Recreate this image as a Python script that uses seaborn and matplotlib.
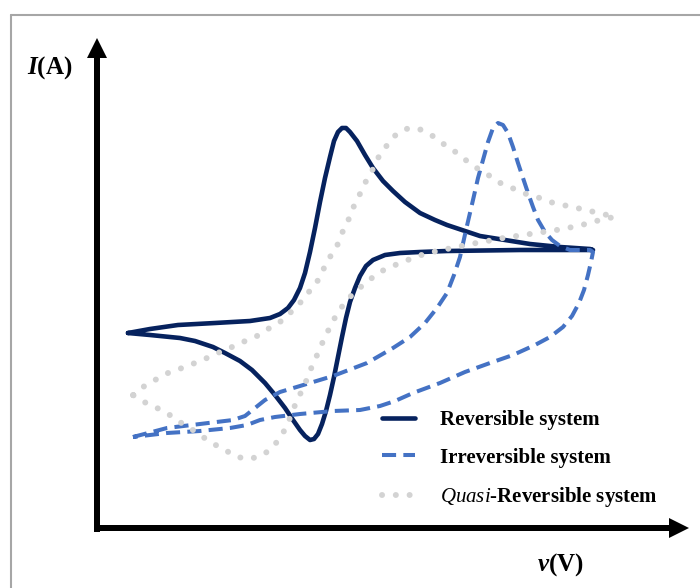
import matplotlib
matplotlib.use('Agg')
import matplotlib.pyplot as plt
import seaborn as sns
import pandas as pd
from matplotlib.lines import Line2D

# potential (x) and current (y) in arbitrary units
rev_x = [31, 53, 81, 118, 153, 173, 183, 191, 197, 203, 208, 213, 218, 223, 228, 233, 237, 241, 245, 249,
         253, 260, 268, 276, 286, 296, 308, 323, 338, 350, 368, 383, 408, 433, 463, 493, 496,
         423, 350, 323, 303, 288, 276, 269, 263, 258, 253, 249, 245, 241, 237, 233, 229, 225, 221, 217,
         213, 208, 203, 196, 188, 178, 168, 155, 143, 128, 116, 98, 83, 53, 31]
rev_y = [195, 199, 203, 205, 207, 210, 214, 220, 228, 240, 255, 276, 300, 326, 350, 371, 387, 396, 400, 400,
         396, 387, 373, 360, 347, 337, 326, 315, 308, 303, 297, 292, 288, 284, 281, 279, 278,
         278, 277, 276, 275, 273, 268, 262, 252, 240, 226, 210, 191, 171, 151, 133, 117, 104, 94, 89,
         88, 92, 98, 108, 120, 133, 145, 158, 167, 175, 181, 187, 190, 193, 195]

irr_x = [36, 70, 103, 136, 148, 158, 168, 183, 203, 236, 270, 296, 313, 328, 340, 350, 357, 363, 369, 376,
         381, 386, 391, 396, 401, 406, 411, 416, 421, 426, 431, 436, 441, 448, 455, 463, 473, 493,
         496, 494, 491, 487, 482, 475, 466, 453, 438, 416, 393, 368, 343, 316, 298, 283, 263, 236,
         203, 178, 163, 150, 133, 103, 70, 36]
irr_y = [91, 100, 104, 108, 112, 120, 128, 136, 142, 152, 165, 180, 191, 205, 220, 235, 253, 271, 298, 328,
         350, 368, 386, 400, 405, 403, 395, 381, 365, 350, 335, 321, 308, 296, 288, 282, 278, 278,
         276, 266, 253, 238, 225, 212, 201, 191, 183, 173, 165, 156, 145, 135, 127, 122, 118, 117,
         114, 111, 108, 103, 100, 97, 95, 91]

qua_x = [36, 46, 58, 71, 85, 98, 110, 123, 135, 146, 160, 171, 183, 193, 203, 211, 220, 226, 233, 240,
         245, 251, 256, 262, 268, 275, 281, 288, 296, 308, 320, 333, 345, 356, 366, 378, 390, 401,
         413, 426, 440, 453, 466, 480, 493, 506, 518,
         506, 493, 480, 466, 453, 440, 426, 413, 400, 386, 373, 360, 345, 331, 318, 306, 293, 281,
         270, 260, 250, 241, 235, 229, 223, 218, 212, 207, 201, 196, 191, 185, 176, 166, 153, 140,
         128, 115, 103, 93, 81, 70, 58, 45, 36]
qua_y = [133, 141, 148, 155, 160, 165, 170, 176, 181, 186, 192, 199, 206, 215, 225, 235, 246, 258, 271, 282,
         295, 307, 320, 332, 345, 357, 370, 380, 391, 399, 400, 394, 385, 378, 370, 361, 354, 346,
         341, 335, 331, 326, 323, 320, 317, 314, 311,
         309, 305, 302, 299, 297, 295, 293, 291, 289, 286, 284, 281, 278, 275, 271, 266, 261, 255,
         246, 238, 228, 216, 205, 193, 180, 168, 155, 141, 130, 118, 105, 93, 81, 73, 69, 71,
         78, 85, 93, 100, 107, 115, 121, 127, 133]

labels = ['Reversible system', 'Irreversible system', '$\\mathit{Quasi}$-Reversible system']
colors = ['#06225e', '#4472c4', '#d3d3d3']

sns.set_theme(style='white')
plt.rcParams['font.family'] = ['Liberation Serif', 'DejaVu Serif']
plt.rcParams['text.color'] = 'black'
plt.rcParams['mathtext.fontset'] = 'custom'
plt.rcParams['mathtext.rm'] = 'Liberation Serif:bold'
plt.rcParams['mathtext.it'] = 'Liberation Serif:italic'
plt.rcParams['mathtext.bf'] = 'Liberation Serif:bold'
plt.rcParams['mathtext.bfit'] = 'Liberation Serif:italic:bold'

fig = plt.figure(figsize=(7, 5.88), dpi=100)
ax = fig.add_axes([0, 0, 1, 1])

rev = pd.DataFrame({'E': rev_x, 'I': rev_y})
irr = pd.DataFrame({'E': irr_x, 'I': irr_y})
qua = pd.DataFrame({'E': qua_x, 'I': qua_y})

sns.lineplot(data=rev, x='E', y='I', sort=False, estimator=None, ax=ax,
             color=colors[0], lw=3.3, label=labels[0], solid_capstyle='round')
sns.lineplot(data=irr, x='E', y='I', sort=False, estimator=None, ax=ax,
             color=colors[1], lw=2.9, linestyle=(0, (3.5, 1.8)), label=labels[1])
sns.lineplot(data=qua, x='E', y='I', sort=False, estimator=None, ax=ax,
             color=colors[2], lw=4.3, linestyle=(0, (0.01, 2.3)), dash_capstyle='round',
             label=labels[2])

ax.set_xlim(-97, 603)
ax.set_ylim(-60, 528)
ax.axis('off')

# axis arrows
ax.arrow(0, -4, 0, 494, width=6, head_width=20, head_length=20,
         length_includes_head=True, lw=0, color='black')
ax.arrow(-3, 0, 595, 0, width=6, head_width=20, head_length=20,
         length_includes_head=True, lw=0, color='black')

ax.text(-70, 460, '$\\mathbfit{I}$(A)', fontsize=18, fontweight='bold', ha='left', va='center')
ax.text(440, -37, '$\\mathbfit{v}$(V)', fontsize=18, fontweight='bold', ha='left', va='center')

# gray picture frame
ax.add_line(Line2D([-86, 610], [513, 513], color='#a6a6a6', lw=1.5, clip_on=False))
ax.add_line(Line2D([-86, -86], [513, -70], color='#a6a6a6', lw=1.5, clip_on=False))

leg = ax.legend(loc='upper left', bbox_to_anchor=(382 / 700, 1 - 410 / 588), bbox_transform=fig.transFigure,
                frameon=False, borderpad=0, borderaxespad=0, handlelength=1.6, handletextpad=1.2,
                labelspacing=0.85, prop=dict(family='Liberation Serif', weight='bold', size=15))
for t in leg.get_texts():
    t.set_color('black')

fig.savefig('out.png', dpi=100)
